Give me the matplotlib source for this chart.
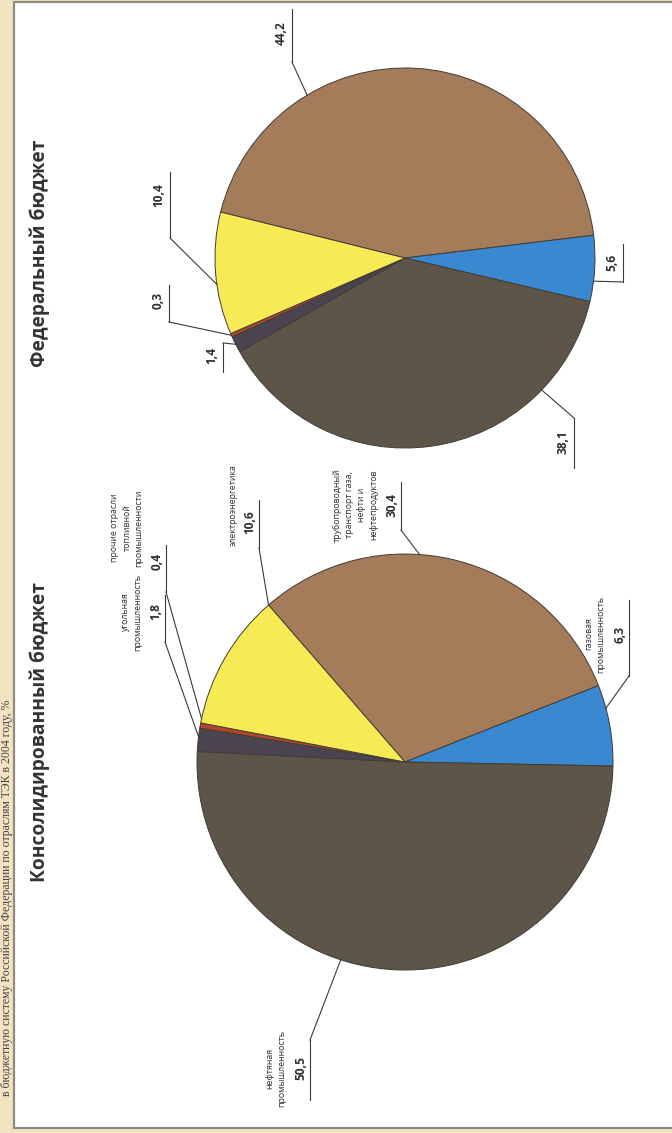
import numpy as np
import matplotlib
matplotlib.use("Agg")
import matplotlib.pyplot as plt
from matplotlib.patches import Rectangle

plt.rcParams['font.family'] = ['Open Sans', 'DejaVu Sans']

# tax revenue by fuel & energy branch, %
sectors = ['трубопроводный транспорт газа, нефти и нефтепродуктов',
           'газовая промышленность',
           'нефтяная промышленность',
           'угольная промышленность',
           'прочие отрасли топливной промышленности',
           'электроэнергетика']
consolidated = [30.4, 6.3, 50.5, 1.8, 0.4, 10.6]
federal = [44.2, 5.6, 38.1, 1.4, 0.3, 10.4]
colors = ['#a47c59', '#3a88d0', '#5c5548', '#4a4450', '#b0462a', '#f6eb55']

# how the sector names are broken into lines next to the left pie
wrapped = ['трубопроводный\nтранспорт газа,\nнефти и\nнефтепродуктов',
           'газовая\nпромышленность',
           'нефтяная\nпромышленность',
           'угольная\nпромышленность',
           'прочие отрасли\nтопливной\nпромышленности',
           'электроэнергетика']

W, H = 672, 1133
TXT = '#2f2f2f'


def fmt(v):
    return f'{v:.1f}'.replace('.', ',')


def P(x, y):
    # page coordinates (y down) -> axes data
    return x, H - y


fig = plt.figure(figsize=(W / 100, H / 100), dpi=100)
fig.patch.set_facecolor('#f2e4c1')
ax = fig.add_axes([0, 0, 1, 1])

ax.add_patch(Rectangle(P(14, 1128), W, 1126, facecolor='white',
                       edgecolor='#8d8c84', linewidth=1.6, zorder=0))

# caption running along the page margin
ax.text(*P(7, 700), 'в бюджетную систему Российской Федерации по отраслям ТЭК в 2004 году, %',
        rotation=90, rotation_mode='anchor', ha='right', va='center',
        fontsize=8.5, color='#444444', fontfamily='Liberation Serif')


def draw_pie(values, center, radius, start):
    cx, cy = P(*center)
    ax.pie(values, colors=colors, startangle=start, counterclock=False,
           center=(cx, cy), radius=radius,
           wedgeprops=dict(edgecolor='#403c36', linewidth=0.7))
    return cx, cy


def leader(c, radius, angle, ux, y0, y1, yjoin):
    cx, cy = c
    ex = cx + radius * np.cos(np.radians(angle))
    ey = cy + radius * np.sin(np.radians(angle))
    ax.plot([ux, ux], [H - y0, H - y1], color='#3a3a3a', lw=0.8)
    ax.plot([ux, ex], [H - yjoin, ey], color='#3a3a3a', lw=0.8)


def number(x, y, v):
    ax.text(*P(x, y), fmt(v), rotation=90, ha='center', va='center',
            fontsize=8.6, fontweight='bold', color=TXT)


# ---- federal budget ----
ax.text(*P(40, 253), 'Федеральный бюджет', rotation=90, ha='center', va='center',
        fontsize=13.8, fontweight='bold', color='#333333')
cf = draw_pie(federal, (405, 258), 190, 166)

# (text x, text y, underline x, underline y0, y1, join y, edge angle)
fed_labels = [(281, 33, 292, 9, 62, 62, 121),
              (612, 262, 623, 244, 282, 282, -7),
              (563, 442, 574, 418, 468, 418, -44),
              (212, 356, 223, 343, 372, 343, 207),
              (158, 300, 169, 285, 322, 322, 204),
              (159, 195, 170, 172, 238, 238, 188)]
for v, (tx, ty, ux, y0, y1, yj, ang) in zip(federal, fed_labels):
    number(tx, ty, v)
    leader(cf, 190, ang, ux, y0, y1, yj)

# ---- consolidated budget ----
ax.text(*P(40, 732), 'Консолидированный бюджет', rotation=90, ha='center', va='center',
        fontsize=13.8, fontweight='bold', color='#333333')
cc = draw_pie(consolidated, (405, 762), 208, 131)

# (name x, name y, number x, number y, underline x, y0, y1, join y, edge angle)
cons_labels = [(355, 505, 392, 505, 401, 482, 530, 530, 86),
               (595, 634, 620, 634, 629, 600, 676, 676, 15),
               (276, 1068, 301, 1068, 310, 1040, 1100, 1040, 252),
               (132, 612, 156, 612, 165, 595, 642, 642, 173),
               (127, 528, 157, 562, 166, 545, 592, 592, 168),
               (233, 505, 250, 522, 259, 500, 548, 548, 131)]
for v, name, (nx, ny, tx, ty, ux, y0, y1, yj, ang) in zip(consolidated, wrapped, cons_labels):
    ax.text(*P(nx, ny), name, rotation=90, ha='center', va='center',
            multialignment='center', fontsize=6.3, color=TXT, linespacing=1.45)
    number(tx, ty, v)
    leader(cc, 208, ang, ux, y0, y1, yj)

ax.set_xlim(0, W)
ax.set_ylim(0, H)
ax.set_aspect('auto')
ax.axis('off')

fig.savefig('out.png', dpi=100, facecolor=fig.get_facecolor())
